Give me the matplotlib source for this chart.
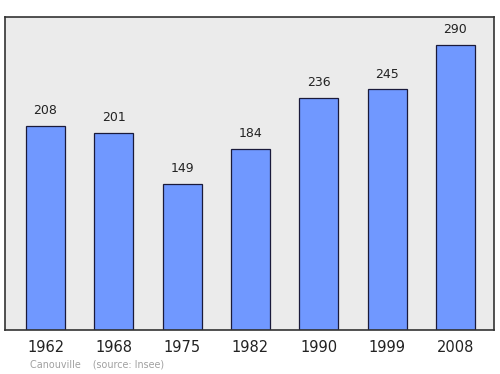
import matplotlib
matplotlib.use("Agg")
import matplotlib.pyplot as plt

years = ["1962", "1968", "1975", "1982", "1990", "1999", "2008"]
population = [208, 201, 149, 184, 236, 245, 290]

fig = plt.figure(figsize=(5, 3.74), dpi=100)
ax = fig.add_axes([0.01, 0.1176, 0.978, 0.837])
ax.set_facecolor("#ebebeb")
x = list(range(len(years)))
ax.bar(x, population, width=0.57, color="#7098ff", edgecolor="#1a1a3a", linewidth=0.9)
for xi, v in zip(x, population):
    ax.text(xi, v + 9, str(v), ha="center", va="bottom", fontsize=9, color="#222222")
ax.set_xlim(-0.593, 6.564)
ax.set_ylim(0, 318.7)
ax.set_yticks([])
ax.set_xticks(x)
ax.set_xticklabels(years, fontsize=10.5, color="#222222")
ax.tick_params(axis="x", length=0, pad=7)
for s in ax.spines.values():
    s.set_color("#333333")
    s.set_linewidth(1.2)
fig.text(0.06, 0.026, "Canouville    (source: Insee)", fontsize=6.9, color="#a0a0a0",
         ha="left", va="center")
fig.savefig("out.png", dpi=100)
